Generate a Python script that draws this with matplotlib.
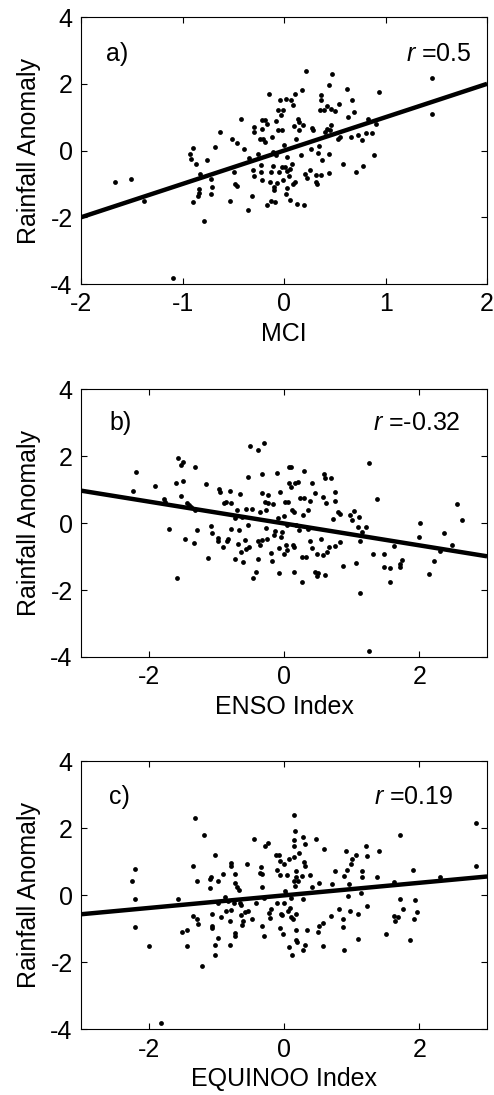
import matplotlib
matplotlib.use("Agg")
import matplotlib.pyplot as plt
import numpy as np

plt.rcParams['font.family'] = ['Liberation Sans', 'DejaVu Sans']
plt.rcParams['mathtext.fontset'] = 'custom'
plt.rcParams['mathtext.it'] = 'Liberation Sans:italic'
plt.rcParams['mathtext.rm'] = 'Liberation Sans'
plt.rcParams['axes.unicode_minus'] = False

# ---------------- Panel a: MCI ----------------
mci_x = [-1.67, -1.51, -1.38, -1.09, -0.79, -0.90, -0.93, -0.92, -0.87, -0.90, -0.83, -0.84, -0.84, -0.85,
         -0.76, -0.72, -0.71, -0.72, -0.68, -0.63, -0.53, -0.51, -0.46, -0.49, -0.48, -0.46, -0.42, -0.39,
         -0.35, -0.32, -0.36, -0.30, -0.30, -0.31, -0.30, -0.26, -0.24, -0.22, -0.22, -0.21, -0.23, -0.23,
         -0.22, -0.19, -0.19, -0.17, -0.15, -0.14, -0.13, -0.17, -0.13, -0.12, -0.11, -0.11, -0.10, -0.10,
         -0.09, -0.08, -0.08, -0.06, -0.06, -0.07, -0.05, -0.04, -0.03, -0.02, -0.01, 0.00, -0.02, -0.01,
         0.01, 0.02, 0.03, 0.03, 0.02, 0.03, 0.06, 0.05, 0.06, 0.07, 0.08, 0.09, 0.09, 0.10, 0.11, 0.11,
         0.12, 0.13, 0.14, 0.15, 0.15, 0.17, 0.18, 0.19, 0.20, 0.22, 0.21, 0.23, 0.26, 0.27, 0.28, 0.29,
         0.31, 0.31, 0.32, 0.33, 0.34, 0.35, 0.36, 0.36, 0.37, 0.36, 0.39, 0.40, 0.42, 0.42, 0.44, 0.44,
         0.44, 0.45, 0.46, 0.47, 0.46, 0.50, 0.53, 0.54, 0.55, 0.58, 0.62, 0.63, 0.66, 0.67, 0.69, 0.71,
         0.73, 0.77, 0.78, 0.81, 0.83, 0.87, 0.89, 0.91, 0.94, 1.46, 1.46]
mci_y = [-0.93, -0.85, -1.51, -3.81, -2.10, 0.09, -0.09, -0.26, -0.41, -1.53, -0.69, -1.14, -1.27, -1.36,
         -0.28, -0.84, -1.09, -1.31, 0.11, 0.55, -1.50, 0.36, 0.23, -0.65, -1.01, -1.07, 0.94, 0.05,
         -0.21, -1.36, -1.77, 0.71, 0.56, -0.59, -0.76, -0.09, 0.36, 0.91, 0.66, 0.36, -0.44, -0.65,
         -0.89, 0.26, 0.91, 0.81, 1.69, -0.94, -0.64, -1.64, -1.51, 0.41, -0.04, -0.45, -1.09, -1.19,
         -1.54, 0.89, -0.14, 0.61, 1.21, -0.97, -0.64, 1.51, 1.06, 0.61, 1.21, 0.16, -0.49, -0.89,
         -0.49, 1.56, -0.19, -0.61, -1.29, -1.13, -1.49, -0.77, -0.54, 1.52, -0.39, -1.01, 1.36, 0.73, 1.69, -0.94,
         0.36, -1.61, 0.96, 0.86, 0.61, -0.12, 1.81, 0.77, -1.64, 2.38, -0.71, -0.81, -0.59, 0.04, 0.69, 0.63,
         -0.74, -0.94, -1.01, -0.07, 0.14, 1.21, 1.51, 1.66, -0.29, -0.74, 1.21, 0.56, 0.66, 1.33, -0.09, 1.96,
         -0.68, 0.61, 1.26, 2.30, 0.76, 1.18, 0.36, 1.41, 0.41, -0.41, 1.83, 1.01, 0.41, 1.53, 1.16, -0.65,
         0.46, 0.31, -0.45, 0.53, 0.96, 0.53, -0.14, 0.81, 1.74, 2.17, 1.11]

# ---------------- Panel b: ENSO ----------------
enso_x = [-2.23, -2.19, -1.91, -1.78, -1.76, -1.70, -1.58, -1.56, -1.60, -1.53, -1.52, -1.50, -1.49, -1.47,
          -1.44, -1.41, -1.38, -1.33, -1.32, -1.31, -1.28, -1.16, -1.12, -1.08, -1.07, -0.98, -0.97, -0.96,
          -0.94, -0.90, -0.89, -0.86, -0.84, -0.83, -0.80, -0.79, -0.78, -0.73, -0.72, -0.70, -0.68, -0.66,
          -0.65, -0.64, -0.62, -0.60, -0.58, -0.56, -0.56, -0.54, -0.54, -0.52, -0.51, -0.47, -0.46, -0.41,
          -0.39, -0.39, -0.38, -0.36, -0.35, -0.33, -0.32, -0.33, -0.29, -0.28, -0.27, -0.26, -0.25, -0.24,
          -0.23, -0.20, -0.18, -0.16, -0.15, -0.13, -0.10, -0.09, -0.07, -0.07, -0.06, -0.05, -0.03, 0.00,
          0.00, 0.02, 0.03, 0.04, 0.05, 0.06, 0.07, 0.08, 0.10, 0.10, 0.12, 0.13, 0.14, 0.15, 0.16, 0.17,
          0.15, 0.20, 0.22, 0.23, 0.26, 0.27, 0.28, 0.29, 0.30, 0.33, 0.35, 0.35, 0.38, 0.39, 0.41, 0.42,
          0.45, 0.45, 0.48, 0.49, 0.50, 0.54, 0.57, 0.57, 0.59, 0.60, 0.60, 0.62, 0.64, 0.67, 0.69, 0.72,
          0.75, 0.75, 0.76, 0.80, 0.83, 0.82, 0.87, 0.97, 1.01, 1.04, 1.07, 1.09, 1.11, 1.12, 1.12, 1.15,
          1.21, 1.25, 1.25, 1.31, 1.38, 1.48, 1.48, 1.56, 1.56, 1.63, 1.71, 1.72, 1.74, 1.99, 2.01, 2.14,
          2.21, 2.30, 2.37, 2.48, 2.55, 2.63]
enso_y = [0.96, 1.53, 1.11, 0.72, 0.64, -0.18, -1.63, 1.95, 1.21, 0.81, 1.75, 1.83, 1.25, -0.46,
          0.59, 0.54, 0.49, -0.60, 1.68, 0.39, -0.21, 1.16, -1.03, -0.09, -0.29, -0.44, -0.54, 1.02,
          0.92, -0.71, 0.59, 0.64, -0.53, -0.46, 0.96, -0.19, 0.59, 0.14, -1.06, 0.39, -0.61, -0.21,
          0.88, -0.86, 0.19, -1.16, -0.51, 0.42, -0.76, -0.06, 1.38, -0.71, 2.31, 0.42, -1.65, -1.47,
          2.18, -1.08, -0.54, -0.64, 0.34, 0.89, 1.48, -0.51, 2.38, 0.64, 0.38, -0.14, -0.46, 0.84,
          0.59, -0.88, -1.14, 0.56, -0.36, -0.23, 1.50, 0.14, -1.50, -0.74, 0.94, -0.41, -0.26, -0.91,
          0.22, 0.64, -0.66, -0.06, -0.81, 0.62, 1.19, 1.68, 1.68, 1.09, 0.39, -0.66, -1.47, 0.34, 1.19, -0.06,
          -0.71, 1.22, -0.21, 0.74, -1.01, -1.77, 0.24, 1.55, 0.76, -1.01, -0.18, 0.39, 0.66, -0.54, 1.21, -0.74,
          0.89, -1.47, -1.57, -0.91, -1.50, -0.48, 0.77, -0.94, 1.48, 1.35, -1.55, 0.59, -0.86, -0.71, 1.35, 0.12,
          0.94, -0.68, 0.66, 0.34, -0.56, 0.26, -1.28, 0.24, 0.09, 0.37, -1.18, -0.11, 0.19, -2.10, -0.53, -0.26,
          -0.11, 1.81, -3.81, -0.91, 0.72, -0.91, -1.30, -1.35, -1.77, -0.69, -1.30, -1.21, -1.09, -0.41, -0.01, -1.51,
          -1.13, -0.84, -0.28, -0.66, 0.56, 0.09]

# ---------------- Panel c: EQUINOO ----------------
eq_x = [-2.24, -2.20, -2.20, -2.20, -2.00, -1.82, -1.57, -1.51, -1.44, -1.43, -1.35, -1.35, -1.31, -1.29,
        -1.28, -1.27, -1.21, -1.18, -1.10, -1.10, -1.08, -1.07, -1.07, -1.07, -1.02, -1.02, -1.02, -0.98,
        -0.97, -0.97, -0.93, -0.90, -0.87, -0.86, -0.83, -0.80, -0.80, -0.79, -0.78, -0.79, -0.74, -0.73,
        -0.73, -0.73, -0.73, -0.69, -0.67, -0.65, -0.64, -0.63, -0.62, -0.60, -0.57, -0.55, -0.54, -0.48,
        -0.44, -0.42, -0.36, -0.34, -0.33, -0.32, -0.32, -0.30, -0.29, -0.28, -0.23, -0.22, -0.21, -0.19,
        -0.12, -0.10, -0.10, -0.07, -0.06, -0.06, -0.06, -0.05, -0.03, -0.01, 0.00, 0.00, 0.02, 0.03,
        0.05, 0.06, 0.08, 0.08, 0.09, 0.10, 0.11, 0.12, 0.13, 0.14, 0.14, 0.14, 0.15, 0.15, 0.16, 0.16,
        0.17, 0.17, 0.17, 0.17, 0.18, 0.19, 0.20, 0.22, 0.27, 0.28, 0.28, 0.28, 0.29, 0.31, 0.31, 0.31,
        0.34, 0.38, 0.41, 0.47, 0.51, 0.50, 0.51, 0.57, 0.58, 0.59, 0.70, 0.71, 0.75, 0.81, 0.87, 0.87,
        0.88, 0.89, 0.92, 0.93, 0.94, 0.96, 0.98, 0.99, 1.01, 1.06, 1.09, 1.09, 1.15, 1.15, 1.14, 1.21,
        1.23, 1.23, 1.38, 1.40, 1.51, 1.63, 1.63, 1.64, 1.68, 1.71, 1.71, 1.76, 1.86, 1.91, 1.92, 1.94,
        1.97, 2.31, 2.83, 2.84]
eq_y = [0.44, 0.80, -0.10, -0.93, -1.50, -3.81, -0.10, -1.10, -1.03, -1.52, 0.89, -0.61, 2.31, 0.42,
        -0.71, -0.86, -2.12, 1.81, 0.50, 0.22, 0.55, -0.56, -0.90, -0.96, 1.20, -1.49, -1.77, 0.42,
        -1.27, -0.23, -0.64, 0.64, -0.05, -0.46, -0.16, -1.47, -0.78, 0.97, 0.89, -0.43, -0.23, 0.64,
        0.37, -1.13, -1.20, 0.24, 0.17, -0.23, -0.28, -0.58, -0.88, -0.78, -0.51, 0.94, -0.46, -0.71,
        1.68, -0.23, 0.67, 0.84, 0.24, 0.64, -0.90, -0.08, -1.20, 1.48, 1.56, -0.53, -0.68, -0.41,
        1.22, 0.77, -0.23, 1.20, 1.04, -0.96, 0.62, -0.56, -0.58, -1.16, 0.94, -0.23, 0.14, 0.04,
        0.62, -0.48, -1.55, 1.10, -0.38, -0.08, -0.66, -1.77, -0.70, 2.39, 1.48, 1.14, 1.66, 0.44, 0.27, 1.93,
        0.72, 0.54, -0.56, -1.32, -1.03, -1.39, 0.42, 1.26, 0.59, 1.73, -0.10, -1.62, 1.00, 1.53, 0.87, -1.49,
        -1.03, 0.62, 0.24, 1.68, 0.37, -1.10, -0.90, -0.83, -1.50, 1.39, -0.63, 0.34, 0.74, -0.40, -0.93, -0.71,
        -1.62, 0.57, 1.34, 0.77, -0.01, 0.35, -0.46, 0.95, 1.09, 1.20, -0.55, -1.29, 0.72, 0.54, 0.07, 1.48,
        1.17, -0.31, 0.55, 1.34, -1.15, 0.40, -0.61, -0.76, -0.66, 1.81, -0.11, -0.41, -1.34, 0.77, -0.70, -0.13,
        -0.50, 0.55, 2.16, 0.89]

panels = [
    dict(x=mci_x, y=mci_y, xlim=(-2, 2), xticks=[-2, -1, 0, 1, 2], xlabel='MCI',
         label='a)', r='0.5', slope=1.0, icpt=0.0, lab_x=-1.75, r_x=1.85, txt_y=2.9,
         rect=[0.164, 0.7406, 0.822, 0.2438]),
    dict(x=enso_x, y=enso_y, xlim=(-3, 3), xticks=[-2, 0, 2], xlabel='ENSO Index',
         label='b)', r='-0.32', slope=-0.327, icpt=-0.01, lab_x=-2.58, r_x=2.61, txt_y=3.0,
         rect=[0.164, 0.400, 0.822, 0.2445]),
    dict(x=eq_x, y=eq_y, xlim=(-3, 3), xticks=[-2, 0, 2], xlabel='EQUINOO Index',
         label='c)', r='0.19', slope=0.188, icpt=0.0, lab_x=-2.58, r_x=2.50, txt_y=2.95,
         rect=[0.164, 0.060, 0.822, 0.2446]),
]

fig = plt.figure(figsize=(4.94, 10.95), dpi=100)
fs = 18
for p in panels:
    ax = fig.add_axes(p['rect'])
    ax.scatter(p['x'], p['y'], s=12, color='black', linewidths=0, zorder=3)
    xl = np.array(p['xlim'])
    ax.plot(xl, p['slope'] * xl + p['icpt'], color='black', linewidth=3.2, zorder=4,
            solid_capstyle='butt')
    ax.set_xlim(*p['xlim'])
    ax.set_ylim(-4, 4)
    ax.set_xticks(p['xticks'])
    ax.set_yticks([-4, -2, 0, 2, 4])
    ax.tick_params(direction='in', length=4, width=0.8, labelsize=fs, top=True, right=True, pad=6)
    for s in ax.spines.values():
        s.set_linewidth(0.8)
    ax.set_xlabel(p['xlabel'], fontsize=fs, labelpad=4)
    ax.set_ylabel('Rainfall Anomaly', fontsize=fs, labelpad=7)
    ax.text(p['lab_x'], p['txt_y'], p['label'], fontsize=fs, ha='left', va='center')
    ax.text(p['r_x'], p['txt_y'], r'$r$ =' + p['r'], fontsize=fs, ha='right', va='center')

fig.savefig('out.png', dpi=100)
